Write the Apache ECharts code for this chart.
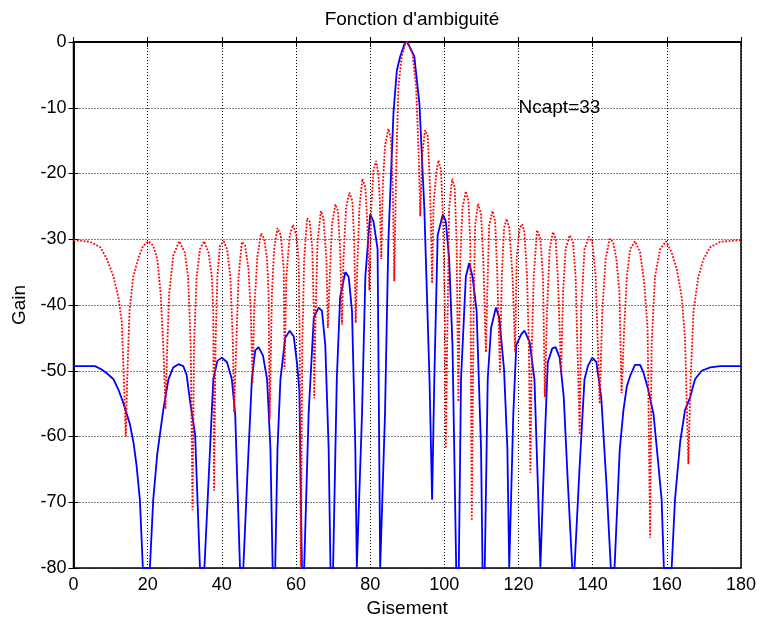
<!DOCTYPE html>
<html>
<head>
<meta charset="utf-8">
<script src="https://cdn.jsdelivr.net/npm/echarts@6/dist/echarts.min.js"></script>
<style>
html,body{margin:0;padding:0;background:#fff;}
#chart{width:761px;height:625px;}
</style>
</head>
<body>
<div id="chart"></div>
<script>
// ---- data ----
var titleText = "Fonction d'ambiguité";
var xName = "Gisement";
var yName = "Gain";
var noteText = "Ncapt=33";
var notePos = [120, -10];
var xTicks = [0, 20, 40, 60, 80, 100, 120, 140, 160, 180];
var yTicks = [-80, -70, -60, -50, -40, -30, -20, -10, 0];

// blue solid curve (tapered pattern)
var blueX = [0,3,5.8,7.6,9.2,10.8,12.2,13.5,15.2,16.2,17,17.9,18.7,20.6,21.5,22.6,24.2,25.6,26.9,28.3,29.6,30.5,31.4,32.8,34.1,35.3,36.4,37.7,38.8,40,41.4,42.7,43.6,44.9,45.8,46.8,48.1,49,49.9,51.1,52.2,53.1,53.7,54.4,55,55.8,57.1,58.3,59.4,60.3,60.9,61.6,62.2,63.4,64.8,66.1,67,67.9,68.8,69.3,70,71,71.9,73.3,74.2,75.1,76,76.4,76.9,77.8,78.7,80,80.9,82,82.7,83.2,84,84.9,86.3,87.2,88.1,89.4,90,91.9,93.3,94.6,96,96.7,97.3,98.2,99.6,100.4,101.3,102.2,103.2,103.9,104.5,105.8,106.7,107.6,108.7,109.9,110.3,110.9,111.7,112.6,113.9,114.8,116.1,117,117.5,118,118.6,119.4,120.7,121.6,123,124.3,125.2,125.9,126.4,127,127.9,129.1,130,131.1,132.2,133.3,134.5,135.1,136.5,137.8,138.7,139.9,141,142.3,143.7,144.9,145.9,147.3,148.3,149.2,150.1,151.4,152.8,153.7,155,156.4,157.3,158.6,159.2,161.3,162.2,163.6,164.9,166.3,167.6,169.4,171.7,174.4,180];
var blueY = [-49.3,-49.3,-49.3,-49.8,-50.5,-51.3,-53,-55,-58.1,-61,-64.4,-69.6,-80,-80,-69.6,-62.6,-56,-51.3,-49.5,-49,-49.3,-50.6,-54.5,-59.7,-80,-80,-67,-51.3,-48.5,-48,-48.7,-51.3,-56.6,-80,-80,-67,-51.3,-46.9,-46.4,-47.7,-51.3,-61.8,-80,-80,-62,-51.3,-45,-43.9,-44.8,-49,-53,-80,-80,-56.6,-41.9,-40.4,-40.9,-46.1,-61.8,-80,-80,-51.3,-38.8,-35,-35.7,-40.9,-61.8,-80,-80,-56.6,-35.7,-26.2,-27.3,-31.5,-80,-80,-56.6,-30.4,-10.6,-4.3,-2.2,-0.1,0,-2.2,-9.5,-25.2,-51.3,-69.6,-51.3,-29.4,-26.2,-27.3,-33,-46.1,-80,-80,-51.3,-35.7,-33.6,-35.7,-40.9,-61.8,-80,-80,-51.3,-43.5,-40.4,-41.9,-49.8,-61.8,-80,-80,-56.6,-46.1,-44.5,-43.9,-45.6,-51.3,-67,-80,-80,-61.8,-48.7,-46.6,-46.4,-48,-54,-67,-80,-80,-64.4,-51.3,-49.3,-48,-48.7,-54,-67,-80,-80,-62,-56,-52.4,-50.8,-49.1,-49.1,-50.3,-52.9,-56.6,-61.8,-69.6,-80,-80,-69.6,-60.8,-56,-54,-51.3,-50,-49.5,-49.3,-49.3];

// red dotted curve (uniform pattern)
var redX = [0,4.5,7.2,9,10.8,12.1,13,13.6,14.1,14.5,15.1,16.1,17.5,18.8,20.2,21.5,22.6,23.5,24.2,24.8,25.3,25.8,26.9,28.5,30,30.9,31.6,32.1,32.5,33.2,34.1,35.2,36.4,37.3,37.7,37.9,38.3,38.8,39.5,40.5,41.4,42.3,43,43.3,43.9,44.5,45.4,46.3,47.2,47.8,48.3,48.7,49.6,50.6,51.4,52.2,52.6,52.9,53.5,54.1,55,55.9,56.7,56.9,57.4,58.3,59.2,60.1,60.7,61,61.3,61.7,62.2,63,63.7,64.4,64.8,64.9,65.3,65.8,66.7,67.4,68.2,68.6,69.1,69.7,70.6,71.3,71.9,72.4,72.8,73.5,74.4,75.2,75.7,76.1,76.6,77.1,77.9,78.7,79.3,79.8,80.3,80.9,81.6,82.2,82.6,83,83.4,84,84.9,85.6,86.1,86.5,87,87.6,88.5,89.4,90,91.4,92.4,93.1,93.5,94,94.8,95.5,96,96.4,96.7,97.1,97.8,98.4,99.1,99.7,100.1,100.4,100.9,101.3,102.1,102.8,103.3,103.8,104.3,104.9,105.8,106.5,107,107.4,107.9,108.3,109.1,109.9,110.5,111.2,111.7,112.1,113,113.7,114.3,115,115.5,116.1,116.8,117.5,118.4,119.1,119.5,120.3,121,121.6,122.3,122.8,123.2,123.6,124.1,125,125.9,126.6,127.1,127.7,128.4,129.3,130,130.6,131.5,132,132.7,133.8,134.7,135.4,136.5,136.9,137.8,139,139.9,140.8,141.9,142.6,143.5,144.6,145.5,146.4,147.2,147.8,148.5,149.2,150.1,151.4,152.8,153.9,154.8,155.5,155.9,156.8,158.2,159.8,161.3,162.7,164,164.9,165.8,166.4,167.2,168.5,169.9,171.7,174.4,180];
var redY = [-30.1,-30.4,-31.2,-33,-35.7,-38.8,-42.5,-51.3,-60,-51,-40.9,-35.7,-32.8,-31,-30.3,-31,-33,-38.3,-46.1,-55.8,-46,-38.3,-32.5,-30.3,-32,-35.7,-46.1,-71.2,-46,-35.7,-31.5,-30.3,-32,-35.7,-41,-68.2,-46,-35.7,-31,-30.3,-31.5,-35.7,-46.1,-56.3,-46,-35.7,-30.4,-31,-34.6,-40.9,-51.9,-41,-32.5,-29.1,-29.9,-33,-38.3,-57.4,-38.3,-31.5,-28.3,-29.4,-34.6,-49.8,-35.7,-29.4,-27.8,-29.4,-33,-46.1,-80,-46.1,-33,-26.8,-27.3,-31.5,-40.9,-54.2,-40.9,-30.4,-25.7,-26.8,-33,-43.5,-35.7,-27.8,-24.7,-25.7,-31.5,-43,-33,-25.2,-22.9,-24.2,-30.4,-42.7,-33,-25.2,-20.8,-22.1,-28.3,-37.8,-25.2,-19.5,-18.1,-20,-24,-33,-22,-15.8,-13.2,-14.7,-22,-36.4,-19.5,-6.9,-2.2,-0.4,0,-1.7,-6.9,-17.4,-26.5,-17.4,-13.4,-14.2,-20,-27.8,-36.7,-24.7,-20,-18,-19.4,-27.8,-40,-61.8,-40.9,-25.2,-20.8,-22.1,-30.4,-54.7,-33,-25.2,-22.7,-24.2,-30.4,-72.8,-40.9,-27.8,-24.6,-26.2,-33,-47.2,-35.7,-27.8,-25.7,-27.3,-35.7,-50.3,-35.7,-28.3,-26.9,-28.3,-35.7,-47.2,-33,-28.3,-27.7,-28.9,-35.7,-46.1,-65.5,-46.1,-35.7,-28.6,-29.9,-35.7,-54,-40.9,-31.5,-28.9,-29.9,-35.7,-50.3,-38.3,-31.5,-29.4,-30.4,-35.7,-59.7,-40.9,-31.5,-29.6,-30.4,-35.7,-55,-40.9,-33,-29.9,-30.4,-33,-38,-53.4,-43.5,-35.7,-31.5,-30.3,-32,-36.7,-43.5,-75.4,-46,-35.7,-31.5,-30.3,-32,-34.6,-38.8,-45,-64.2,-51.3,-40.9,-35.7,-33,-31.2,-30.4,-30.1];

function zip(xs, ys) { var o = []; for (var i = 0; i < xs.length; i++) o.push([xs[i], ys[i]]); return o; }

var FONT = "'Liberation Sans', Arial, Helvetica, sans-serif";
var chart = echarts.init(document.getElementById('chart'), null, {renderer: 'canvas'});
var gridStyle = {show: true, lineStyle: {color: '#000', width: 1, type: [1, 2]}};
var tickStyle = {show: true, inside: true, length: 5, lineStyle: {color: '#000', width: 1}};
var lineAxis = {show: true, lineStyle: {color: '#000', width: 1.5}};

chart.setOption({
  animation: false,
  backgroundColor: '#fff',
  title: {
    text: titleText, left: 407, top: 5, textAlign: 'center',
    textStyle: {fontFamily: FONT, fontSize: 19, fontWeight: 'normal', color: '#000'}
  },
  grid: {left: 73.5, top: 42, right: 20, bottom: 57, show: true, borderColor: '#000', borderWidth: 1.5, backgroundColor: '#fff'},
  xAxis: [{
    type: 'value', min: xTicks[0], max: xTicks[xTicks.length - 1], interval: xTicks[1] - xTicks[0],
    position: 'bottom',
    name: xName, nameLocation: 'middle', nameGap: 30,
    nameTextStyle: {fontFamily: FONT, fontSize: 19, color: '#000'},
    axisLine: lineAxis, axisTick: tickStyle, splitLine: gridStyle,
    axisLabel: {fontFamily: FONT, fontSize: 18, color: '#000', margin: 8}
  }, {
    type: 'value', min: xTicks[0], max: xTicks[xTicks.length - 1], interval: xTicks[1] - xTicks[0],
    position: 'top', axisLine: lineAxis, axisTick: tickStyle, splitLine: {show: false}, axisLabel: {show: false}
  }],
  yAxis: [{
    type: 'value', min: yTicks[0], max: yTicks[yTicks.length - 1], interval: yTicks[1] - yTicks[0],
    position: 'left',
    name: yName, nameLocation: 'middle', nameGap: 40, nameRotate: 90,
    nameTextStyle: {fontFamily: FONT, fontSize: 19, color: '#000'},
    axisLine: lineAxis, axisTick: tickStyle, splitLine: gridStyle,
    axisLabel: {fontFamily: FONT, fontSize: 18, color: '#000', margin: 7}
  }, {
    type: 'value', min: yTicks[0], max: yTicks[yTicks.length - 1], interval: yTicks[1] - yTicks[0],
    position: 'right', axisLine: lineAxis, axisTick: tickStyle, splitLine: {show: false}, axisLabel: {show: false}
  }],
  series: [{
    name: 'tapered', type: 'line', data: zip(blueX, blueY), showSymbol: false, symbol: 'none',
    lineStyle: {color: '#0000ff', width: 1.8}, itemStyle: {color: '#0000ff'}, clip: true, z: 3
  }, {
    name: 'uniform', type: 'line', data: zip(redX, redY), showSymbol: false, symbol: 'none',
    lineStyle: {color: '#ff0000', width: 1.8, type: [1.8, 1.6]}, itemStyle: {color: '#ff0000'}, clip: true, z: 4
  }, {
    name: 'note', type: 'scatter', data: [notePos], symbolSize: 0, silent: true, z: 5,
    itemStyle: {opacity: 1, color: '#000'},
    label: {show: true, formatter: noteText, position: 'right', distance: 0, opacity: 1,
      fontFamily: FONT, fontSize: 19, color: '#000'}
  }]
});
</script>
</body>
</html>
